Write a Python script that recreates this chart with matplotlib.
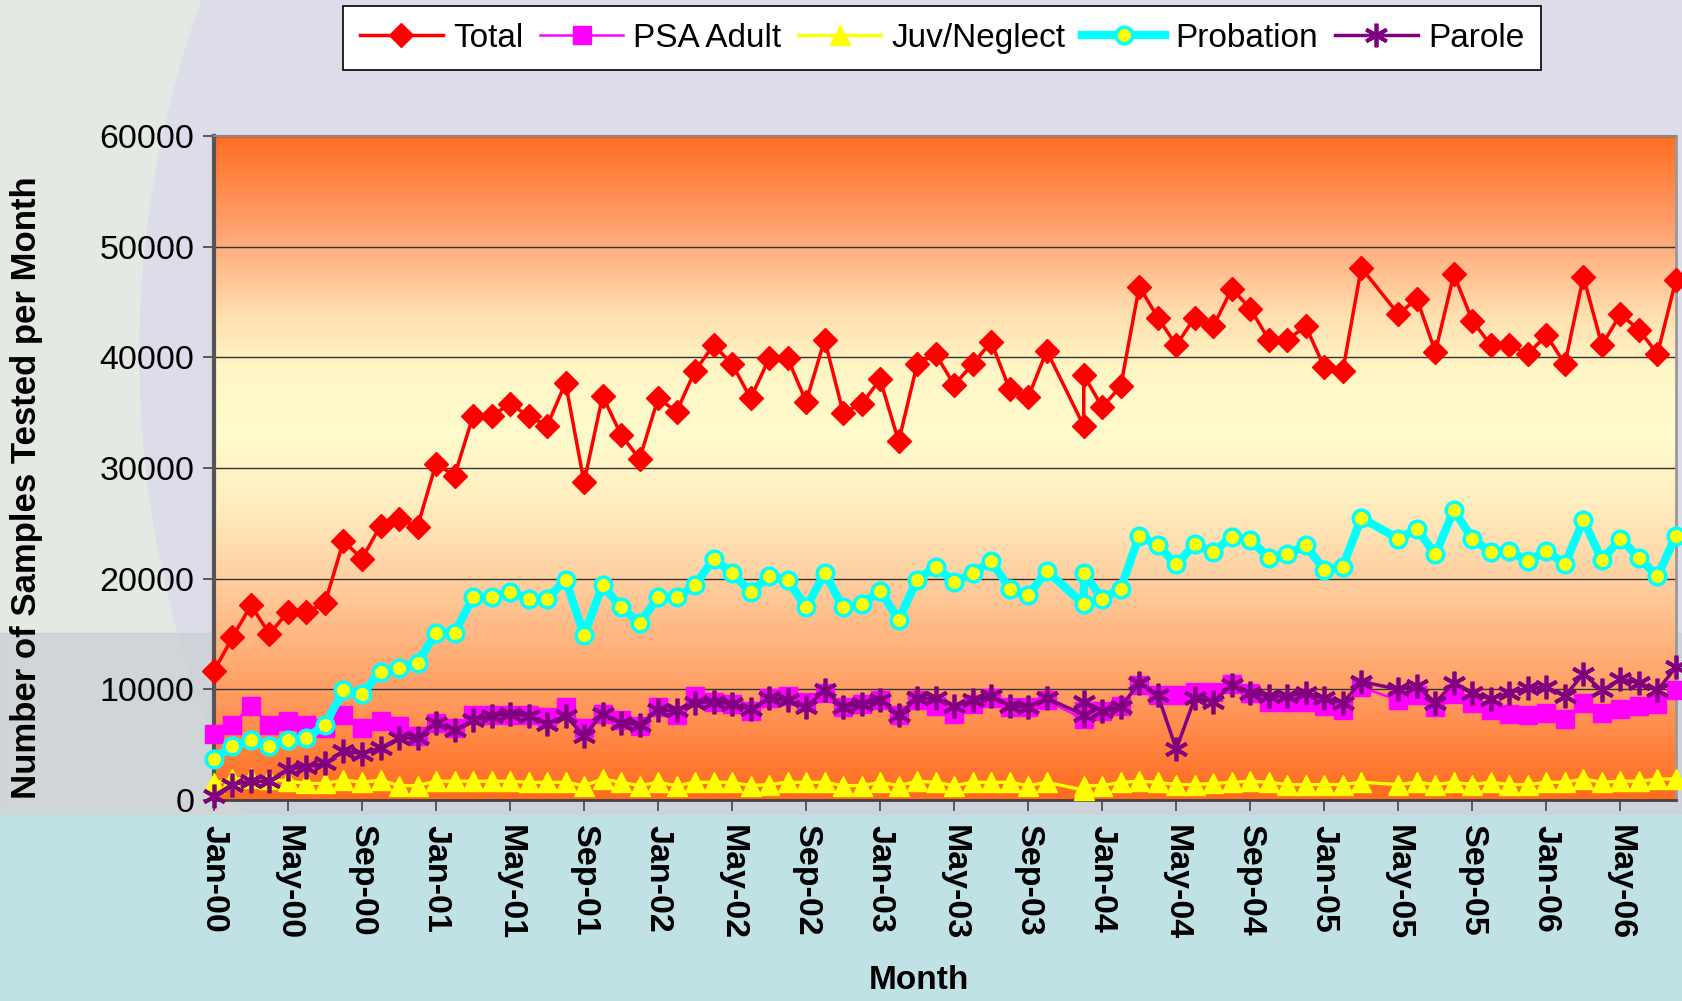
import numpy as np
import pandas as pd
import matplotlib
matplotlib.use('Agg')
import matplotlib.pyplot as plt
from matplotlib.colors import LinearSegmentedColormap
from matplotlib.patches import Rectangle, Ellipse

# months as plotted (Nov-03 entry sits on Dec-03, Apr-05 missing)
months = ([f'{y}-{m:02d}' for y in range(2000, 2003) for m in range(1, 13)]
          + [f'2003-{m:02d}' for m in range(1, 11)] + ['2003-12', '2003-12']
          + [f'2004-{m:02d}' for m in range(1, 13)]
          + ['2005-01', '2005-02', '2005-03'] + [f'2005-{m:02d}' for m in range(5, 13)]
          + [f'2006-{m:02d}' for m in range(1, 9)])

total = [11650, 14700, 17600, 15000, 17000, 17000, 17800, 23400, 21800, 24800, 25400, 24700,
         30400, 29300, 34700, 34700, 35800, 34700, 33800, 37700, 28700, 36500, 33000, 30800,
         36300, 35100, 38800, 41100, 39400, 36300, 39900, 39900, 36000, 41600, 35000, 35800,
         38000, 32400, 39400, 40300, 37500, 39400, 41400, 37100, 36400, 40600, 33800, 38400,
         35500, 37400, 46400, 43600, 41100, 43600, 42800, 46200, 44400, 41600, 41600, 42800,
         39100, 38800, 48100, 43900, 45300, 40500, 47500, 43300, 41100, 41100, 40300,
         42000, 39400, 47300, 41100, 43900, 42500, 40300, 47000]

psa_adult = [6000, 6800, 8500, 6800, 7100, 6800, 6500, 7700, 6500, 7100, 6700, 5800,
             7000, 6500, 7700, 7700, 7700, 7700, 7500, 8400, 6500, 7800, 7200, 6700,
             8400, 7700, 9400, 8900, 8700, 8000, 9200, 9400, 8900, 9700, 8400, 8700,
             9000, 7700, 9000, 8500, 7800, 8700, 9200, 8400, 8400, 9000, 7300, 8000,
             8000, 8500, 10400, 9500, 9500, 9800, 9800, 10500, 9700, 8900, 8900, 8900,
             8500, 8100, 10200, 9000, 9500, 8400, 9600, 8800, 8100, 7800, 7700,
             7900, 7300, 8800, 7900, 8200, 8500, 8700, 9900]

juv_neglect = [1500, 1900, 2000, 1900, 1700, 1500, 1500, 1800, 1600, 1800, 1300, 1300,
               1700, 1700, 1700, 1700, 1700, 1600, 1600, 1600, 1300, 1900, 1600, 1300,
               1600, 1300, 1600, 1600, 1600, 1300, 1400, 1600, 1600, 1600, 1300, 1300,
               1600, 1300, 1700, 1600, 1300, 1600, 1600, 1600, 1300, 1600, 900, 1300,
               1300, 1600, 1700, 1600, 1400, 1400, 1500, 1600, 1700, 1600, 1400, 1400,
               1400, 1400, 1600, 1400, 1600, 1400, 1600, 1400, 1600, 1400, 1400,
               1600, 1600, 1900, 1600, 1700, 1700, 1900, 1900]

probation = [3700, 4900, 5400, 4900, 5400, 5600, 6800, 9900, 9600, 11600, 11900, 12400,
             15100, 15100, 18300, 18300, 18800, 18200, 18200, 19900, 14900, 19400, 17400, 16000,
             18300, 18300, 19400, 21800, 20500, 18800, 20200, 19900, 17400, 20500, 17400, 17700,
             18900, 16300, 19900, 21100, 19700, 20500, 21600, 19100, 18500, 20700, 17700, 20500,
             18200, 19100, 23900, 23000, 21300, 23100, 22400, 23800, 23500, 21900, 22200, 23000,
             20800, 21100, 25500, 23600, 24500, 22200, 26200, 23600, 22400, 22500, 21600,
             22500, 21300, 25300, 21700, 23600, 21900, 20200, 23900]

parole = [400, 1400, 1700, 1700, 2800, 3000, 3300, 4400, 4200, 4700, 5600, 5600,
          7000, 6300, 7200, 7600, 7800, 7600, 6900, 7600, 5800, 7800, 7000, 6800,
          8100, 8100, 8800, 8900, 8700, 8200, 9200, 9000, 8400, 9900, 8400, 8700,
          9000, 7700, 9200, 9200, 8500, 9000, 9400, 8500, 8400, 9200, 7700, 8900,
          8000, 8400, 10600, 9500, 4600, 9200, 8900, 10400, 9700, 9400, 9400, 9700,
          9200, 8800, 10700, 10000, 10300, 8800, 10600, 9700, 9100, 9700, 10100,
          10200, 9400, 11400, 9900, 10900, 10600, 9900, 12000]

periods = pd.PeriodIndex(months, freq='M')
x = (periods.year - 2000) * 12 + periods.month - 1
tick_periods = pd.period_range('2000-01', '2006-05', freq='4M')
tick_x = (tick_periods.year - 2000) * 12 + tick_periods.month - 1
tick_labels = tick_periods.strftime('%b-%y')

plt.rcParams['font.family'] = ['Liberation Sans', 'DejaVu Sans']

fig = plt.figure(figsize=(16.82, 10.01), dpi=100)
fig.patch.set_facecolor('#e5e9e4')

# slide-style background, kept behind the axes
fig.patches.append(Ellipse((1180 / 1682, 647 / 1001), 2 * 1040 / 1682, 2 * 1040 / 1001,
                           transform=fig.transFigure, color='#dcdde9', zorder=-10))
fig.patches.append(Rectangle((0, 0.186), 1, 0.182, transform=fig.transFigure,
                             color='#cbd0d6', alpha=0.8, zorder=-9))
fig.patches.append(Rectangle((0, 0), 1, 0.186, transform=fig.transFigure,
                             color='#c0e2e5', zorder=-8))

ax = fig.add_axes([0.1272, 0.2008, 0.8692, 0.6633])
ax.set_zorder(5)

# orange -> pale yellow -> orange plot background
cmap = LinearSegmentedColormap.from_list('bg', [
    (0.0, '#ff6a1c'), (0.15, '#ff9a5e'), (0.33, '#ffcfa0'), (0.45, '#ffeec0'),
    (0.55, '#fffbcc'), (0.65, '#fff6c6'), (0.73, '#ffe0b0'), (0.85, '#ffa676'), (1.0, '#ff6e22')])
grad = np.linspace(0, 1, 256).reshape(-1, 1)
ax.imshow(grad, extent=[0, 1, 0, 1], transform=ax.transAxes, aspect='auto',
          cmap=cmap, origin='lower', zorder=0)

ax.plot(x, total, color='#ff0000', lw=2.5, marker='D', ms=12, mfc='#ff0000', mec='#ff0000',
        label='Total', clip_on=False, zorder=3)
ax.plot(x, psa_adult, color='#ff00ff', lw=1.8, marker='s', ms=12.5, mfc='#ff00ff', mec='#ff00ff',
        label='PSA Adult', clip_on=False, zorder=3)
ax.plot(x, juv_neglect, color='#ffff00', lw=2.4, marker='^', ms=15, mfc='#ffff00', mec='#ffff00',
        label='Juv/Neglect', clip_on=False, zorder=3)
ax.plot(x, probation, color='#00ffff', lw=6, marker='o', ms=12, mfc='#ffff00', mec='#00ffff',
        mew=2.5, label='Probation', clip_on=False, zorder=3)
ax.plot(x, parole, color='#800080', lw=2.5, marker=(6, 2, 0), ms=17, mec='#800080', mew=2.7,
        label='Parole', clip_on=False, zorder=3)

ax.set_xlim(0, 79)
ax.set_ylim(0, 60000)
ax.set_yticks(np.arange(0, 60001, 10000))
ax.set_yticklabels([str(v) for v in range(0, 60001, 10000)], fontsize=24.5)
ax.set_xticks(tick_x)
ax.set_xticklabels(tick_labels, rotation=270, fontsize=24.5, fontweight='bold', va='top', ha='center')
ax.tick_params(axis='y', length=8, width=1.2, color='#444444', pad=6)
ax.tick_params(axis='x', length=8, width=1.2, color='#444444', pad=10)
ax.set_axisbelow(True)
ax.grid(axis='y', color='#333333', lw=1)

ax.spines['left'].set_color('#555555')
ax.spines['left'].set_linewidth(3)
ax.spines['bottom'].set_color('#444444')
ax.spines['bottom'].set_linewidth(2)
ax.spines['top'].set_color('#888888')
ax.spines['top'].set_linewidth(1.5)
ax.spines['right'].set_color('#999999')
ax.spines['right'].set_linewidth(2)

fig.text(27 / 1682, 0.5125, 'Number of Samples Tested per Month', rotation=90,
         ha='center', va='center', fontsize=25, fontweight='bold')
fig.text(919 / 1682, 0.02, 'Month', ha='center', va='center', fontsize=24, fontweight='bold')

leg = ax.legend(loc='center', bbox_to_anchor=(0.560, 0.962), bbox_transform=fig.transFigure,
                ncol=5, fontsize=24, frameon=True, fancybox=False, edgecolor='black',
                handlelength=2.5, handletextpad=0.3, columnspacing=0.5, borderpad=0.5)
leg.get_frame().set_linewidth(1.2)
leg.get_frame().set_facecolor('white')
leg.get_frame().set_alpha(1)

fig.savefig('out.png', dpi=100, facecolor=fig.get_facecolor())
